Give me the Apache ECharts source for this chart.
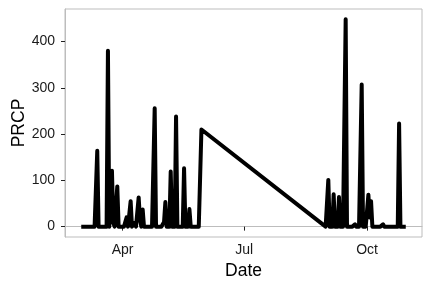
<!DOCTYPE html>
<html>
<head>
<meta charset="utf-8">
<script src="https://cdn.jsdelivr.net/npm/echarts@6/dist/echarts.min.js"></script>
<style>
html,body{margin:0;padding:0;background:#fff;}
#chart{width:432px;height:288px;}
</style>
</head>
<body>
<div id="chart"></div>
<script>
// Daily precipitation values (PRCP)
var year = 2015;
var marValues = [0,0,0,0,0,0,0,0,0,0,0,0,164,0,0,0,0,0,0,0,380,0,0,121,8,0,0,87,0,0,0]; // Mar 1 - Mar 31
var aprValues = [0,0,0,20,0,0,55,0,0,8,0,0,63,15,0,37,0,0,0,0,0,0,0,0,256,0,0,0,0,0]; // Apr 1 - Apr 30
var mayValues = [0,10,53,0,0,0,119,0,0,0,238,0,0,0,0,0,126,0,0,0,38,0,0,0,0,0,0,0,0,210]; // May 1 - May 30
var augValues = [0]; // Aug 31
var sepValues = [0,101,0,0,0,70,0,0,0,64,0,0,0,0,448,0,0,0,0,0,0,5,0,0,0,0,307,0,0,0]; // Sep 1 - Sep 30
var octValues = [0,69,20,55,0,0,0,0,0,0,0,0,5,0,0,0,0,0,4,0,0,0,0,0,223,0,0,0,0,0]; // Oct 1 - Oct 30

// segments: [month index, first day, values]
var segments = [[2,1,marValues],[3,1,aprValues],[4,1,mayValues],[7,31,augValues],[8,1,sepValues],[9,1,octValues]];

var xTickDates = [[3,1],[6,1],[9,1]];
var xTickLabels = ['Apr','Jul','Oct'];
var yTickValues = [0,100,200,300,400];

var data = [];
segments.forEach(function(s){
  s[2].forEach(function(v,i){ data.push([Date.UTC(year, s[0], s[1]+i), v]); });
});
var first = data[0][0], last = data[data.length-1][0];
var pad = (last-first)*0.05;
var yMaxData = 448, yMinData = 0;
var yPad = (yMaxData-yMinData)*0.05;

var xTicks = xTickDates.map(function(d){ return Date.UTC(year, d[0], d[1]); });
var labelMap = {};
xTicks.forEach(function(t,i){ labelMap[t] = xTickLabels[i]; });

var font = 'Liberation Sans, Arial, Helvetica, sans-serif';
var chart = echarts.init(document.getElementById('chart'), null, {renderer:'canvas'});
chart.setOption({
  animation:false,
  backgroundColor:'#fff',
  grid:{left:65, right:10, top:9, bottom:51, show:true, borderColor:'#bdbdbd', borderWidth:1, backgroundColor:'transparent', containLabel:false, outerBoundsMode:'none'},
  xAxis:{
    type:'value', min:first-pad, max:last+pad, scale:true,
    name:'Date', nameLocation:'middle', nameGap:25, nameMoveOverlap:false,
    nameTextStyle:{fontFamily:font, fontSize:17.5, color:'#000'},
    axisLine:{show:true, lineStyle:{color:'#bdbdbd', width:1}},
    axisTick:{show:true, customValues:xTicks, length:4, lineStyle:{color:'#222', width:1}},
    axisLabel:{show:true, customValues:xTicks, margin:6, fontFamily:font, fontSize:14, color:'#1a1a1a',
      formatter:function(v){ return labelMap[v] || ''; }},
    splitLine:{show:false}, minorTick:{show:false}
  },
  yAxis:{
    type:'value', min:yMinData-yPad, max:yMaxData+yPad,
    name:'PRCP', nameLocation:'middle', nameGap:37, nameRotate:90, nameMoveOverlap:false,
    nameTextStyle:{fontFamily:font, fontSize:17.5, color:'#000'},
    axisLine:{show:true, lineStyle:{color:'#bdbdbd', width:1}},
    axisTick:{show:true, customValues:yTickValues, length:4, lineStyle:{color:'#222', width:1}},
    axisLabel:{show:true, customValues:yTickValues, margin:10, fontFamily:font, fontSize:14, color:'#1a1a1a'},
    splitLine:{show:false}
  },
  series:[{
    type:'line', data:data, showSymbol:false, symbol:'none',
    lineStyle:{color:'#000', width:4, cap:'butt', join:'round'},
    emphasis:{disabled:true}
  }]
});
</script>
</body>
</html>
